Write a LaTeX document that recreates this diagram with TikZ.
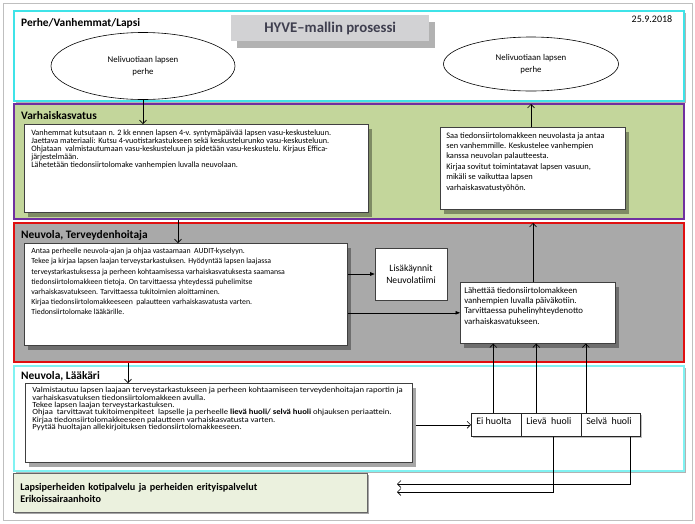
\documentclass[tikz,border=0pt]{standalone}
\usepackage{fontspec}
\usepackage{graphicx}
\setmainfont{Carlito}
\usetikzlibrary{arrows.meta,shadows,shapes.geometric}
\definecolor{cyanA}{HTML}{3FE3E8}
\definecolor{cyanB}{HTML}{80F2F2}
\definecolor{purpleA}{HTML}{7030A0}
\definecolor{greenA}{HTML}{C3D69B}
\definecolor{grayA}{HTML}{A9A9A9}
\definecolor{redA}{HTML}{E01010}
\definecolor{greenB}{HTML}{EBF1DE}
\definecolor{titlegray}{HTML}{D2D2D4}
\definecolor{titletext}{HTML}{3F3F4F}
\newcommand{\tb}[5]{\parbox[t][#2][t]{#1}{\fontsize{#3}{#4}\selectfont\raggedright #5}}
\tikzset{
  sectitle/.style={font=\fontsize{11.4}{13}\selectfont\bfseries, anchor=west, inner sep=0pt},
  shad/.style={drop shadow={shadow xshift=4pt, shadow yshift=-5pt, opacity=0.35, fill=black}},
  wbox/.style={draw=black!75, fill=white, line width=0.6pt, anchor=north west, shad},
  oval/.style={ellipse, draw=black, line width=0.6pt, fill=white, align=center,
     font=\fontsize{8.8}{11.5}\selectfont},
  fillarrow/.style={line width=0.6pt, -{Triangle[length=4.5pt,width=3.5pt]}},
  barbarrow/.style={line width=0.6pt, -{Straight Barb[length=3.5pt,width=7pt]}}
}
\begin{document}
\begin{tikzpicture}[x=1pt,y=-1pt]
\useasboundingbox (0,0) rectangle (695,523);
\fill[white] (0,0) rectangle (695,523);
\draw[black!25, line width=1pt] (3,3) rectangle (692,520);

% Section 1
\draw[cyanA, line width=2pt, fill=white, drop shadow={shadow xshift=1.5pt, shadow yshift=-1.5pt, opacity=0.3, fill=black}] (14,11) rectangle (684,101);
\node[sectitle] (t1) at (21,23) {Perhe/Vanhemmat/Lapsi};
\node[fill=titlegray, minimum width=198pt, minimum height=26pt, anchor=north west,
  drop shadow={shadow xshift=6pt, shadow yshift=-7pt, opacity=0.3, fill=black},
  font=\fontsize{14.8}{16}\selectfont\bfseries, text=titletext] (hyve) at (231,15) {HYVE–mallin prosessi};
\node[font=\fontsize{10}{12}\selectfont] (date) at (652,19) {25.9.2018};
\node[oval, minimum width=184pt, minimum height=67pt] (e1) at (143,66) {Nelivuotiaan lapsen\\perhe};
\node[oval, minimum width=175pt, minimum height=54pt] (e2) at (531,64) {Nelivuotiaan lapsen\\perhe};

% Section 2
\draw[purpleA, line width=2pt, fill=greenA] (14,104) rectangle (684,219);
\node[sectitle] (t2) at (21,116) {Varhaiskasvatus};
\node[wbox, inner xsep=7pt, inner ysep=5pt] (vk1) at (24,124) {\tb{330pt}{78pt}{8.2}{8.2}{%
Vanhemmat kutsutaan n. 2 kk ennen lapsen 4-v. syntymäpäivää lapsen vasu-keskusteluun.\\
Jaettava materiaali: Kutsu 4-vuotistarkastukseen sekä keskustelurunko vasu-keskusteluun.\\
Ohjataan~ valmistautumaan vasu-keskusteluun ja pidetään vasu-keskustelu. Kirjaus Effica-\\
järjestelmään.\\
Lähetetään tiedonsiirtolomake vanhempien luvalla neuvolaan.}};
\node[wbox, inner xsep=6pt, inner ysep=5pt] (vk2) at (440,127) {\tb{173pt}{72pt}{8.4}{10.4}{%
Saa tiedonsiirtolomakkeen neuvolasta ja antaa\\
sen vanhemmille. Keskustelee vanhempien\\
kanssa neuvolan palautteesta.\\
Kirjaa sovitut toimintatavat lapsen vasuun,\\
mikäli se vaikuttaa lapsen\\
varhaiskasvatustyöhön.}};

% Section 3
\draw[redA, line width=2pt, fill=grayA] (14,223) rectangle (684,362);
\node[sectitle] (t3) at (21,235) {Neuvola, Terveydenhoitaja};
\node[wbox, inner xsep=7pt, inner ysep=5pt] (nt1) at (24,243) {\tb{309pt}{92pt}{7.8}{10.2}{%
Antaa perheelle neuvola-ajan ja ohjaa vastaamaan~ AUDIT-kyselyyn.\\
Tekee ja kirjaa lapsen laajan terveystarkastuksen. Hyödyntää lapsen laajassa\\
terveystarkastuksessa ja perheen kohtaamisessa varhaiskasvatuksesta saamansa\\
tiedonsiirtolomakkeen tietoja. On tarvittaessa yhteydessä puhelimitse\\
varhaiskasvatukseen. Tarvittaessa tukitoimien aloittaminen.\\
Kirjaa tiedonsiirtolomakkeeseen~ palautteen varhaiskasvatusta varten.\\
Tiedonsiirtolomake lääkärille.}};
\node[draw=black!75, fill=white, line width=0.6pt, minimum width=72pt, minimum height=52pt,
  align=center, font=\fontsize{9.6}{12}\selectfont] (lis) at (411,274) {Lisäkäynnit\\Neuvolatiimi};
\node[wbox, inner xsep=4pt, inner ysep=5pt] (nt2) at (460,282) {\tb{147pt}{51pt}{8.8}{10.2}{%
Lähettää tiedonsiirtolomakkeen\\
vanhempien luvalla päiväkotiin.\\
Tarvittaessa puhelinyhteydenotto\\
varhaiskasvatukseen.}};

% Section 4
\draw[cyanB, line width=2pt, fill=white, drop shadow={shadow xshift=1.5pt, shadow yshift=-1.5pt, opacity=0.3, fill=black}] (14,366) rectangle (684,471);
\node[sectitle] (t4) at (21,376) {Neuvola, Lääkäri};
\node[wbox, inner xsep=7pt, inner ysep=4pt] (nl1) at (25,383) {\scalebox{1.11}[1]{\tb{336pt}{71pt}{7.8}{7.4}{%
Valmistautuu lapsen laajaan terveystarkastukseen ja perheen kohtaamiseen terveydenhoitajan raportin ja\\
varhaiskasvatuksen tiedonsiirtolomakkeen avulla.\\
Tekee lapsen laajan terveystarkastuksen.\\
Ohjaa~ tarvittavat tukitoimenpiteet~ lapselle ja perheelle \textbf{lievä huoli/ selvä huoli} ohjauksen periaattein.\\
Kirjaa tiedonsiirtolomakkeeseen palautteen varhaiskasvatusta varten.\\
Pyytää huoltajan allekirjoituksen tiedonsiirtolomakkeeseen.}}};
\tikzset{hbox/.style={draw=black!85, fill=white, line width=0.6pt, anchor=north west, inner xsep=5pt, inner ysep=4pt,
  drop shadow={shadow xshift=2pt, shadow yshift=-2pt, opacity=0.25, fill=black}}}
\node[hbox] (ei) at (471,413) {\tb{40pt}{15pt}{9.9}{11}{Ei huolta}};
\node[hbox] (lie) at (521,413) {\tb{50pt}{15pt}{9.9}{11}{Lievä~ huoli}};
\node[hbox] (sel) at (581,413) {\tb{49pt}{15pt}{9.9}{11}{Selvä~ huoli}};

% Bottom box
\node[draw=black!60, fill=greenB, line width=0.6pt, anchor=north west, minimum width=354pt, minimum height=39pt,
  inner xsep=7pt, align=left, text width=340pt, font=\fontsize{10.2}{12.5}\selectfont\bfseries,
  drop shadow={shadow xshift=2pt, shadow yshift=-2pt, opacity=0.35, fill=black}] (bot) at (13,473)
  {Lapsiperheiden kotipalvelu ja perheiden erityispalvelut\\Erikoissairaanhoito};

% Connectors
\coordinate (s2top) at (531,104);
\coordinate (s2bot) at (178,220);
\coordinate (s3top) at (533,223);
\coordinate (s3bot) at (128,363);
\coordinate (c1) at (397,492);
\coordinate (c2) at (397,484);
\draw[barbarrow] (e1.south) -- (e1.south |- vk1.north);
\draw[barbarrow] (vk2.north -| s2top) -- (s2top);
\draw[barbarrow] (s2bot) -- (s2bot |- nt1.north);
\draw[barbarrow] (nt2.north -| s3top) -- (s3top);
\draw[fillarrow] (nt1.east |- lis.west) -- (lis.west);
\draw[fillarrow] (nt1.east |- nt2.west) -- (nt2.west);
\draw[barbarrow] (s3bot) -- (s3bot |- nl1.north);
\draw[barbarrow] ([xshift=3pt]nl1.east |- ei.west) -- (ei.west);
\draw[barbarrow] ([xshift=-3pt]ei.north) -- ([xshift=-3pt]ei.north |- nt2.south);
\draw[barbarrow] ([xshift=-15pt]lie.north) -- ([xshift=-15pt]lie.north |- nt2.south);
\draw[barbarrow] ([xshift=-25pt]sel.north) -- ([xshift=-25pt]sel.north |- nt2.south);
\draw[barbarrow] ([xshift=2pt]lie.south) |- (c1);
\draw[barbarrow] ([xshift=19.5pt]sel.south) |- (c2);
\end{tikzpicture}
\end{document}
